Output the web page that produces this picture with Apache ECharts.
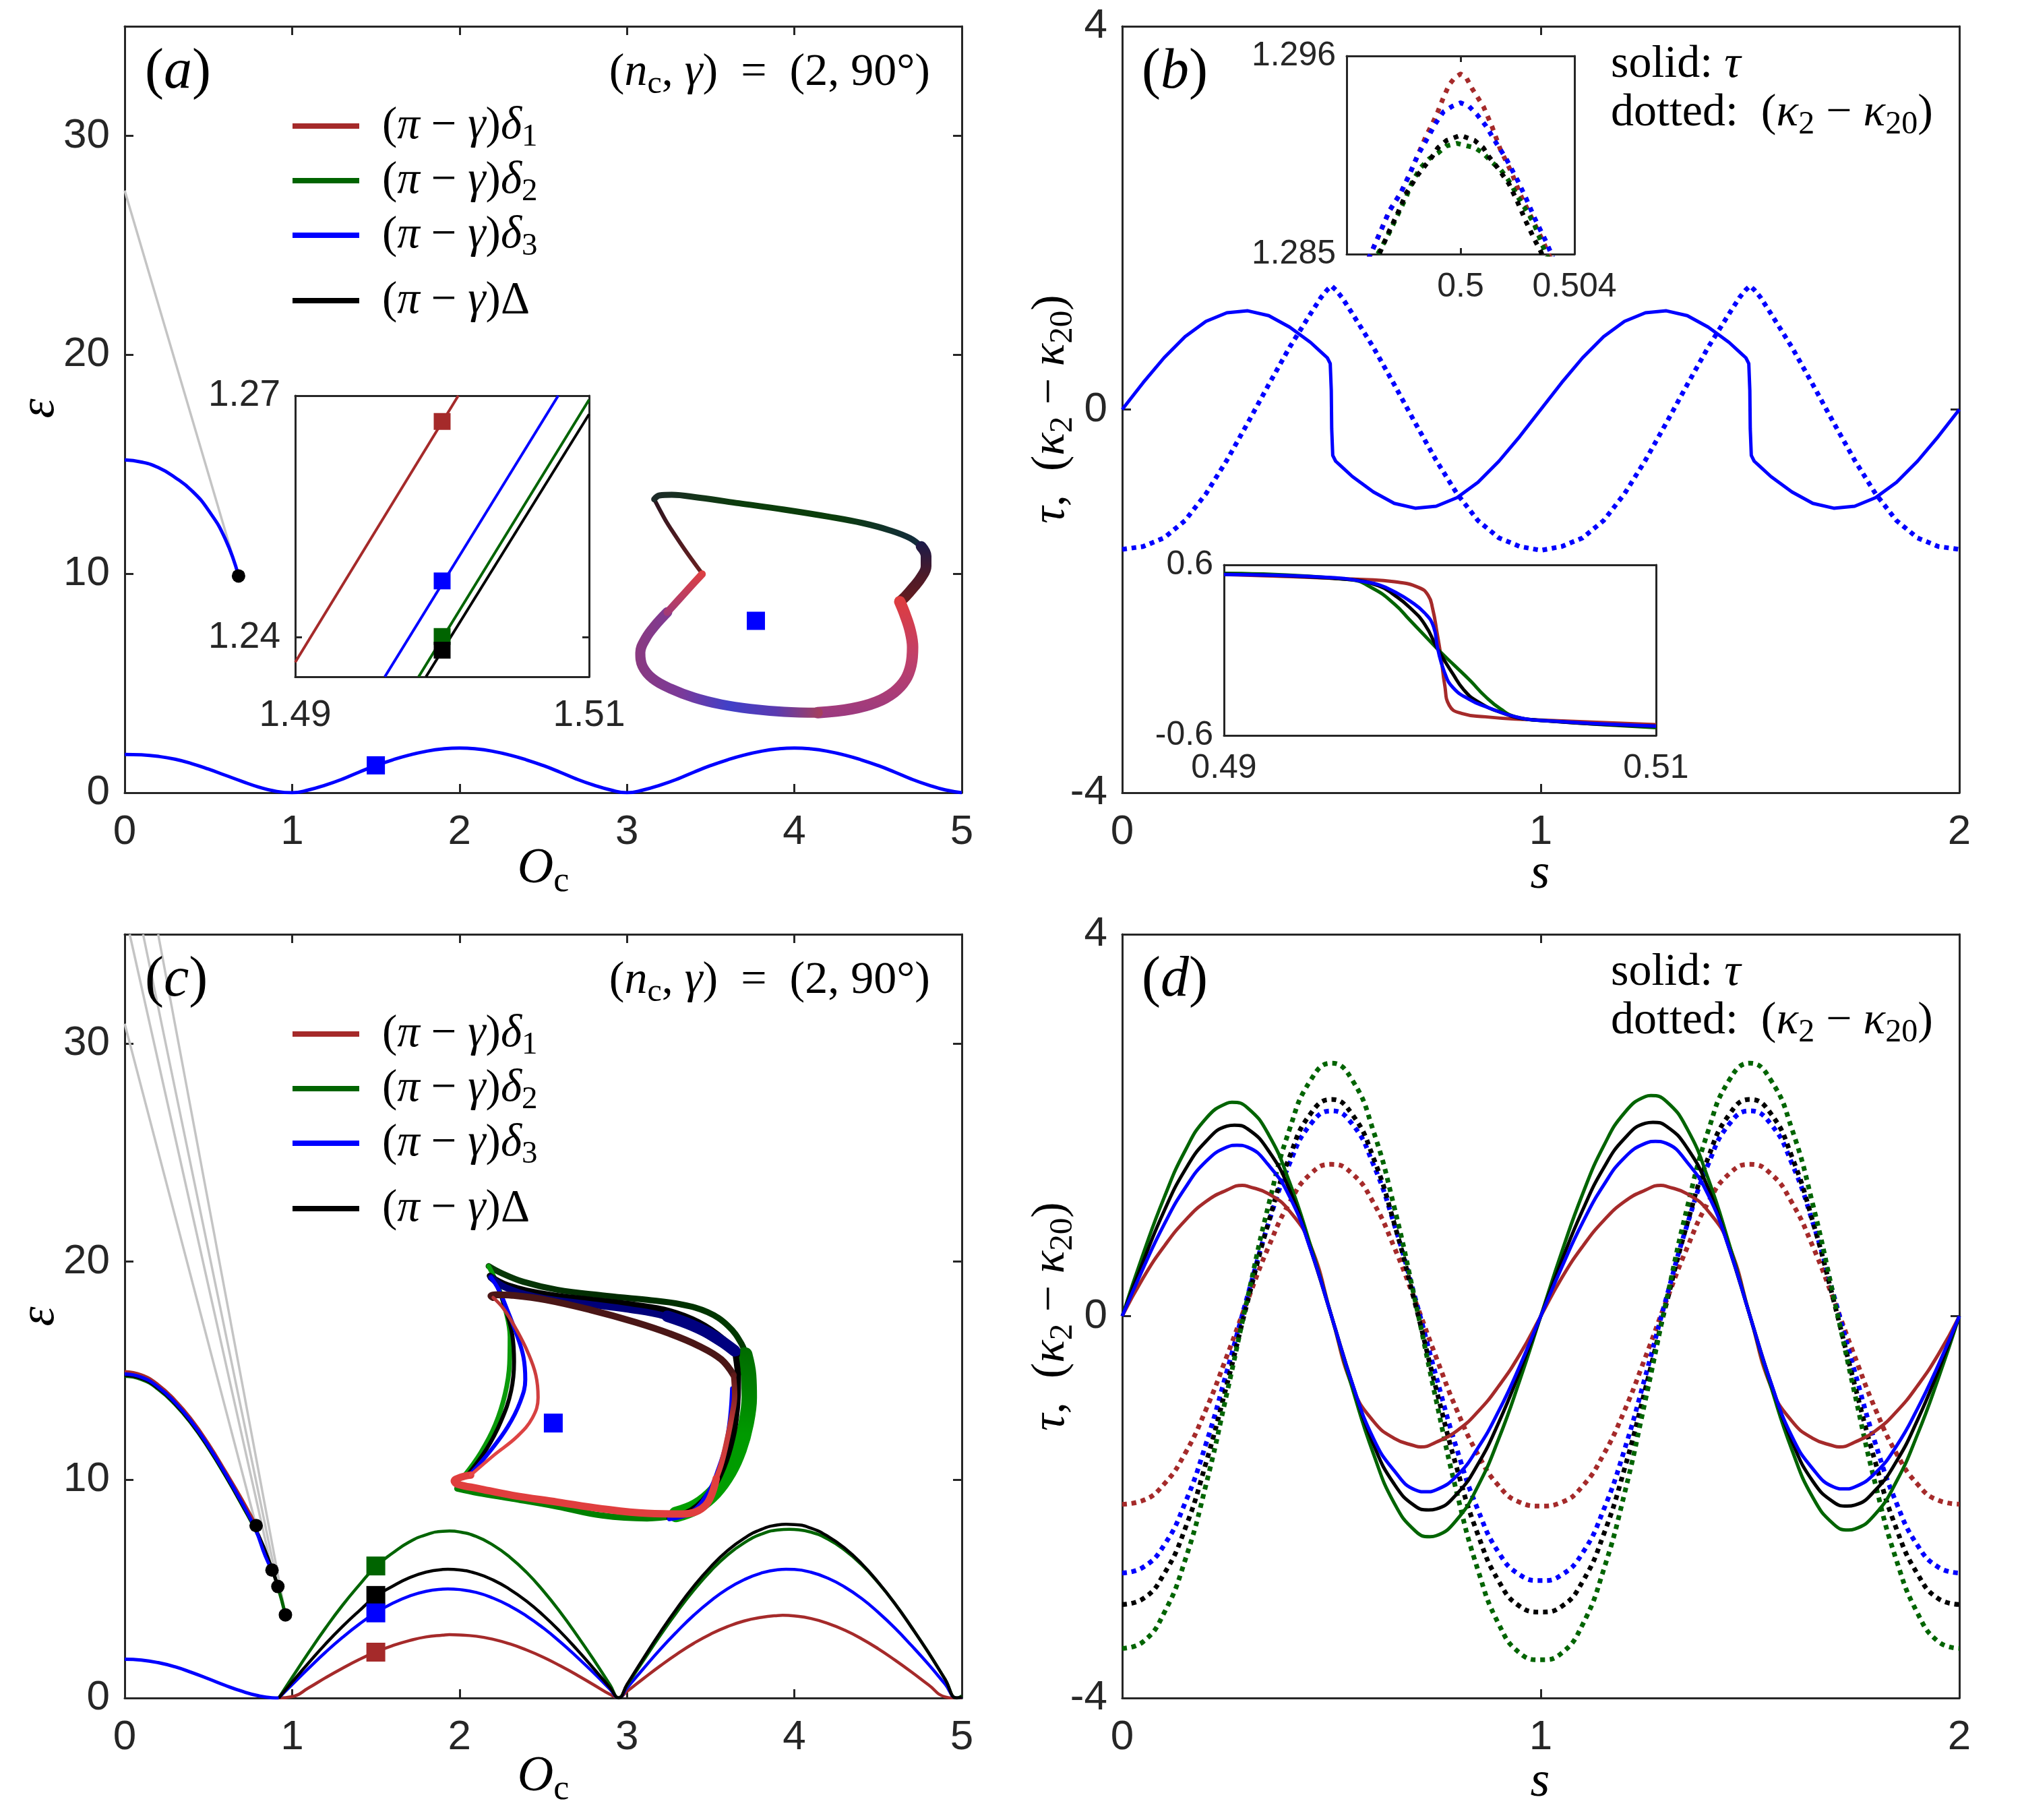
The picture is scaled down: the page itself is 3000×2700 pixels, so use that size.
<!DOCTYPE html>
<html>
<head>
<meta charset="utf-8">
<script src="https://cdn.jsdelivr.net/npm/echarts@6.0.0/dist/echarts.min.js"></script>
<style>
html,body{margin:0;padding:0;background:#fff;}
#chart{width:3000px;height:2700px;}
</style>
</head>
<body>
<div id="chart"></div>
<script>
// colours / fonts
var RED = '#a52a2a', GREEN = '#006400', BLUE = '#0000ff', BLACK = '#000000', GRAY = '#c4c4c4';
var AXC = '#262626';
var SANS = '"Liberation Sans", Arial, sans-serif';
var SERIF = '"Liberation Serif", "Times New Roman", serif';

// ---------- panel (a) ----------
var oGrid = [0,0.1,0.2,0.3,0.4,0.5,0.6,0.7,0.8,0.9,1,1.1,1.2,1.3,1.4,1.5,1.6,1.7,1.8,1.9,2,2.1,2.2,2.3,2.4,2.5,2.6,2.7,2.8,2.9,3,3.1,3.2,3.3,3.4,3.5,3.6,3.7,3.8,3.9,4,4.1,4.2,4.3,4.4,4.5,4.6,4.7,4.8,4.9,5];
var aLower = [1.75,1.73,1.66,1.53,1.33,1.08,0.80,0.52,0.26,0.07,0,
	0.13,0.35,0.62,0.94,1.24,1.50,1.72,1.89,2.0,2.04,
	2.0,1.89,1.72,1.50,1.24,0.94,0.62,0.35,0.13,0,
	0.13,0.35,0.62,0.94,1.24,1.50,1.72,1.89,2.0,2.04,
	2.0,1.89,1.72,1.50,1.24,0.94,0.62,0.35,0.13,0];
var aUpper = [[0,15.2],[0.1,15.1],[0.2,14.85],[0.3,14.4],[0.4,13.8],[0.5,12.9],[0.6,11.6],[0.68,9.9]];
var aGray = [[0,27.5],[0.68,9.9]];
var aDots = [[0.68,9.9]];
var aSquares = [[1.5,1.25],[3.77,7.85]];
// inset (a)
var aiRed = [[1.49,1.2369],[1.5011,1.27]];
var aiBlue = [[1.4961,1.2351],[1.5079,1.27]];
var aiGreen = [[1.4984,1.2351],[1.51,1.2695]];
var aiBlack = [[1.4989,1.2351],[1.51,1.2677]];
var aiSqRed = [[1.5,1.2668]], aiSqBlue = [[1.5,1.247]], aiSqGreen = [[1.5,1.2401]], aiSqBlack = [[1.5,1.2384]];
// loop (a), shape units
var loopA_arm = [[335,392],[300,345],[255,282],[212,218],[172,155],[142,100],[122,62]];
var loopA_top = [[122,62],[145,45],[200,42],[320,55],[500,80],[700,108],[900,140],[1050,168],[1170,200],[1260,235],[1310,272]];
var loopA_lobe = [[1310,272],[1332,315],[1332,360],[1310,410],[1275,455],[1240,495],[1215,518]];
var loopA_right = [[1215,518],[1240,580],[1262,650],[1272,720],[1265,800],[1240,865],[1190,920],[1110,965],[1000,995],[850,1012]];
var loopA_bottom = [[850,1012],[700,1008],[550,995],[420,975],[300,945],[195,905],[115,860],[70,805],[60,745],[85,680],[125,625],[180,565]];
var loopA_left = [[180,565],[230,510],[280,455],[335,395]];

// ---------- panel (b) ----------
var bSolid = [[0,0],[0.05,0.28],[0.1,0.54],[0.15,0.76],[0.2,0.92],[0.25,1.01],[0.3,1.03],[0.35,0.98],[0.4,0.86],[0.45,0.70],[0.48,0.58],[0.49,0.54],[0.497,0.48],[0.4995,0.2],[0.5,0],[0.5005,-0.2],[0.503,-0.48],[0.51,-0.54],[0.52,-0.58],[0.55,-0.70],[0.6,-0.86],[0.65,-0.98],[0.7,-1.03],[0.75,-1.01],[0.8,-0.92],[0.85,-0.76],[0.9,-0.54],[0.95,-0.28],[1.0,0],
	[1.05,0.28],[1.1,0.54],[1.15,0.76],[1.2,0.92],[1.25,1.01],[1.3,1.03],[1.35,0.98],[1.4,0.86],[1.45,0.70],[1.48,0.58],[1.49,0.54],[1.497,0.48],[1.4995,0.2],[1.5,0],[1.5005,-0.2],[1.503,-0.48],[1.51,-0.54],[1.52,-0.58],[1.55,-0.70],[1.6,-0.86],[1.65,-0.98],[1.7,-1.03],[1.75,-1.01],[1.8,-0.92],[1.85,-0.76],[1.9,-0.54],[1.95,-0.28],[2.0,0]];
var bDotted = [[0,-1.46],[0.05,-1.43],[0.1,-1.34],[0.15,-1.16],[0.2,-0.88],[0.25,-0.53],[0.3,-0.14],[0.35,0.26],[0.4,0.65],[0.45,1.0],[0.475,1.17],[0.49,1.25],[0.5,1.29],[0.51,1.25],[0.525,1.17],[0.55,1.0],[0.6,0.65],[0.65,0.26],[0.7,-0.14],[0.75,-0.53],[0.8,-0.88],[0.85,-1.16],[0.9,-1.34],[0.95,-1.43],[1.0,-1.47],
	[1.05,-1.43],[1.1,-1.34],[1.15,-1.16],[1.2,-0.88],[1.25,-0.53],[1.3,-0.14],[1.35,0.26],[1.4,0.65],[1.45,1.0],[1.475,1.17],[1.49,1.25],[1.5,1.29],[1.51,1.25],[1.525,1.17],[1.55,1.0],[1.6,0.65],[1.65,0.26],[1.7,-0.14],[1.75,-0.53],[1.8,-0.88],[1.85,-1.16],[1.9,-1.34],[1.95,-1.43],[2.0,-1.46]];
// top inset (b): dotted near the peak
var btRed = [[0.4966,1.2842],[0.4969,1.2852],[0.4972,1.2863],[0.4975,1.2874],[0.4979,1.2884],[0.4982,1.2894],[0.4985,1.2905],[0.4988,1.2916],[0.4990,1.2922],[0.4992,1.2929],[0.4994,1.2937],[0.4996,1.2944],[0.4998,1.2948],[0.5,1.2950],[0.5002,1.2948],[0.5004,1.2942],[0.5008,1.2932],[0.5011,1.2921],[0.5014,1.2908],[0.5018,1.2895],[0.5021,1.2883],[0.5025,1.2870],[0.5029,1.2857],[0.5032,1.2846],[0.5035,1.2836]];
var btBlue = [[0.4966,1.2842],[0.4969,1.2852],[0.4972,1.2863],[0.4975,1.2874],[0.4979,1.2884],[0.4982,1.2894],[0.4985,1.2905],[0.4989,1.2916],[0.4991,1.2922],[0.4994,1.2929],[0.4997,1.2932],[0.5,1.2934],[0.5003,1.2932],[0.5006,1.2927],[0.5009,1.2921],[0.5012,1.2913],[0.5016,1.2903],[0.5020,1.2891],[0.5023,1.2881],[0.5026,1.2870],[0.5030,1.2857],[0.5033,1.2846],[0.5036,1.2836]];
var btBlack = [[0.4970,1.2845],[0.4972,1.2852],[0.4975,1.2863],[0.4978,1.2873],[0.4981,1.2884],[0.4983,1.2889],[0.4985,1.2894],[0.4988,1.2900],[0.4990,1.2904],[0.4992,1.2909],[0.4995,1.2913],[0.5,1.2916],[0.5005,1.2913],[0.5008,1.2909],[0.5010,1.2904],[0.5013,1.2898],[0.5017,1.2889],[0.5020,1.2879],[0.5023,1.2868],[0.5026,1.2858],[0.5028,1.2852],[0.5030,1.2845]];
var btGreen = [[0.4969,1.2845],[0.4972,1.2853],[0.4975,1.2862],[0.4978,1.2872],[0.4981,1.2882],[0.4983,1.2890],[0.4986,1.2898],[0.4989,1.2903],[0.4992,1.2906],[0.4995,1.2910],[0.49987,1.29115],[0.5005,1.2909],[0.5008,1.2906],[0.5011,1.2901],[0.5014,1.2897],[0.5016,1.2893],[0.5018,1.2888],[0.5020,1.2882],[0.5022,1.2877],[0.5024,1.2872],[0.5026,1.2866],[0.5028,1.2858],[0.5030,1.2850],[0.5032,1.2845]];
// bottom inset (b): solid near the jump
var bbRed = [[0.49,0.532],[0.4965,0.497],[0.4979,0.481],[0.4990,0.442],[0.49945,0.386],[0.49966,0.291],[0.49987,0.117],[0.50004,-0.041],[0.50022,-0.247],[0.50043,-0.389],[0.5010,-0.445],[0.5021,-0.469],[0.5035,-0.485],[0.51,-0.524]];
var bbGreen = [[0.49,0.541],[0.4958,0.497],[0.4969,0.434],[0.4979,0.323],[0.4986,0.212],[0.4993,0.101],[0.5,-0.01],[0.5007,-0.112],[0.5014,-0.215],[0.5021,-0.326],[0.5028,-0.413],[0.5035,-0.469],[0.5049,-0.497],[0.51,-0.545]];
var bbBlack = [[0.49,0.535],[0.4958,0.497],[0.4972,0.45],[0.4979,0.386],[0.4986,0.30],[0.4993,0.18],[0.4999,0.006],[0.5006,-0.168],[0.5011,-0.279],[0.5017,-0.358],[0.5028,-0.437],[0.5042,-0.488],[0.51,-0.535]];
var bbBlue = [[0.49,0.532],[0.4951,0.51],[0.4965,0.481],[0.4972,0.458],[0.4979,0.41],[0.4986,0.347],[0.4993,0.26],[0.4997,0.165],[0.4999,0.006],[0.5002,-0.152],[0.5006,-0.263],[0.5014,-0.35],[0.5021,-0.397],[0.5035,-0.469],[0.5049,-0.497],[0.51,-0.535]];

// ---------- panel (c) ----------
var cPre = [[0,1.78],[0.1,1.74],[0.2,1.62],[0.3,1.43],[0.4,1.17],[0.5,0.88],[0.6,0.58],[0.7,0.31],[0.8,0.1],[0.88,0.01],[0.92,0]];
var cRedHump = [[0.92,0],[1.0,0.06],[1.1,0.47],[1.2,0.93],[1.3,1.36],[1.4,1.76],[1.5,2.11],[1.6,2.40],[1.7,2.63],[1.8,2.80],[1.9,2.88],[2.0,2.89],[2.1,2.83],[2.2,2.69],[2.3,2.48],[2.4,2.20],[2.5,1.87],[2.6,1.48],[2.7,1.06],[2.8,0.61],[2.9,0.16],[2.95,0.02],[3.0,0.3],[3.1,0.90],[3.2,1.48],[3.3,2.02],[3.4,2.51],[3.5,2.93],[3.6,3.27],[3.7,3.53],[3.8,3.69],[3.9,3.78],[4.0,3.76],[4.1,3.64],[4.2,3.42],[4.3,3.11],[4.4,2.72],[4.5,2.26],[4.6,1.74],[4.7,1.19],[4.8,0.61],[4.9,0.05],[4.95,0],[5.0,0.02]];
var cBlueHump = [[0.92,0],[1.0,0.61],[1.1,1.37],[1.2,2.10],[1.3,2.77],[1.4,3.38],[1.5,3.91],[1.6,4.34],[1.7,4.67],[1.8,4.89],[1.9,4.99],[2.0,4.97],[2.1,4.84],[2.2,4.58],[2.3,4.22],[2.4,3.76],[2.5,3.21],[2.6,2.58],[2.7,1.89],[2.8,1.16],[2.9,0.39],[2.95,0],[3.0,0.46],[3.1,1.36],[3.2,2.24],[3.3,3.05],[3.4,3.80],[3.5,4.45],[3.6,5.0],[3.7,5.42],[3.8,5.72],[3.9,5.88],[4.0,5.89],[4.1,5.76],[4.2,5.49],[4.3,5.09],[4.4,4.57],[4.5,3.93],[4.6,3.21],[4.7,2.40],[4.8,1.55],[4.9,0.64],[4.97,0],[5.0,0.05]];
var cBlackHump = [[0.92,0],[1.0,0.73],[1.1,1.62],[1.2,2.48],[1.3,3.27],[1.4,3.99],[1.5,4.66],[1.6,5.12],[1.7,5.51],[1.8,5.77],[1.9,5.89],[2.0,5.87],[2.1,5.71],[2.2,5.41],[2.3,4.98],[2.4,4.44],[2.5,3.79],[2.6,3.05],[2.7,2.23],[2.8,1.36],[2.9,0.46],[2.95,0],[3.0,0.62],[3.1,1.84],[3.2,3.02],[3.3,4.12],[3.4,5.13],[3.5,6.01],[3.6,6.75],[3.7,7.32],[3.8,7.72],[3.9,7.93],[4.0,7.95],[4.1,7.78],[4.2,7.41],[4.3,6.87],[4.4,6.17],[4.5,5.31],[4.6,4.33],[4.7,3.24],[4.8,2.09],[4.9,0.86],[4.97,0],[5.0,0.05]];
var cGreenHump = [[0.92,0],[1.0,0.94],[1.1,2.10],[1.2,3.21],[1.3,4.24],[1.4,5.17],[1.5,6.03],[1.6,6.64],[1.7,7.15],[1.8,7.48],[1.9,7.64],[2.0,7.61],[2.1,7.40],[2.2,7.01],[2.3,6.46],[2.4,5.76],[2.5,4.91],[2.6,3.95],[2.7,2.89],[2.8,1.77],[2.9,0.59],[2.95,0],[3.0,0.58],[3.1,1.74],[3.2,2.88],[3.3,3.96],[3.4,4.95],[3.5,5.82],[3.6,6.55],[3.7,7.11],[3.8,7.50],[3.9,7.70],[4.0,7.72],[4.1,7.60],[4.2,7.28],[4.3,6.78],[4.4,6.12],[4.5,5.29],[4.6,4.33],[4.7,3.24],[4.8,2.09],[4.9,0.86],[4.97,0],[5.0,0.1]];
// hump tops
var cRedPeaks = [[1.94,2.9],[3.93,3.79]];
var cBluePeaks = [[1.93,5.0],[3.95,5.9]];
var cBlackPeaks = [[1.93,5.9],[3.95,7.96]];
var cGreenPeaks = [[1.94,7.65],[3.97,7.73]];
var cUpRed = [[0,14.95],[0.1,14.8],[0.2,14.35],[0.3,13.65],[0.4,12.75],[0.5,11.65],[0.6,10.4],[0.7,9.1],[0.785,7.9]];
var cUpGreen = [[0,14.75],[0.1,14.6],[0.2,14.15],[0.3,13.45],[0.4,12.55],[0.5,11.45],[0.6,10.2],[0.7,8.85],[0.8,7.4],[0.88,5.9],[0.915,5.1],[0.96,3.81]];
var cUpBlack = [[0,14.8],[0.1,14.65],[0.2,14.2],[0.3,13.5],[0.4,12.6],[0.5,11.5],[0.6,10.25],[0.7,8.9],[0.8,7.45],[0.88,5.9],[0.915,5.11]];
var cUpBlue = [[0,14.85],[0.1,14.7],[0.2,14.25],[0.3,13.55],[0.4,12.65],[0.5,11.55],[0.6,10.3],[0.7,8.95],[0.78,7.75],[0.84,6.5],[0.88,5.86]];
var cGray1 = [[0,30.9],[0.785,7.9]];
var cGray2 = [[0.03,35],[0.88,5.86]];
var cGray3 = [[0.11,35],[0.915,5.11]];
var cGray4 = [[0.2,35],[0.96,3.81]];
var cDots = [[0.785,7.9],[0.88,5.86],[0.915,5.11],[0.96,3.81]];
var cSqGreen = [[1.5,6.05]], cSqBlack = [[1.5,4.7]], cSqBlue = [[1.5,3.9],[2.56,12.6]], cSqRed = [[1.5,2.1]];
// loop (c), shape units
var loopC_greenTop = [[195,55],[250,85],[350,125],[500,160],[700,185],[900,205],[1050,225],[1170,260],[1260,320],[1320,400],[1345,470]];
var loopC_greenRight = [[1335,450],[1352,540],[1355,640],[1340,760],[1310,870],[1265,970],[1200,1060],[1120,1125],[1030,1160]];
var loopC_greenBottom = [[1030,1165],[900,1178],[700,1165],[500,1125],[300,1090],[150,1065],[55,1045]];
var loopC_greenLeft = [[85,990],[160,885],[225,760],[268,625],[288,490],[290,370],[270,250],[235,140],[195,55]];
var loopC_blackTop = [[200,98],[280,140],[450,180],[650,205],[850,228],[1000,255],[1130,305],[1240,380],[1300,450]];
var loopC_blackRight = [[1295,455],[1305,560],[1300,690],[1280,820],[1240,950],[1180,1060],[1100,1140],[1000,1175]];
var loopC_blackLeft = [[100,985],[185,870],[250,745],[295,610],[308,480],[300,360],[270,245],[235,150],[200,98]];
var loopC_blueTop = [[205,105],[270,150],[420,195],[620,222],[820,248],[980,278],[1120,335],[1230,400],[1300,440]];
var loopC_blueBand = [[990,278],[1100,318],[1200,368],[1290,432]];
var loopC_blueRight = [[1280,600],[1272,720],[1252,850],[1218,960],[1175,1060],[1100,1150],[1000,1180]];
var loopC_blueLeft = [[110,985],[200,880],[280,770],[335,660],[358,560],[350,460],[320,360],[280,255],[240,160],[205,105]];
var loopC_redTop = [[215,195],[205,188],[225,182],[300,185],[450,205],[650,250],[850,305],[1000,355],[1130,410],[1230,470],[1285,540]];
var loopC_redRight = [[1285,540],[1290,630],[1276,730],[1256,830],[1232,930],[1208,1000]];
var loopC_redBottom = [[1208,1000],[1160,1120],[1060,1158],[900,1155],[700,1135],[500,1105],[300,1075],[150,1045],[55,1025],[42,1012],[70,995],[115,985]];
var loopC_redLeft = [[115,985],[220,895],[320,815],[390,730],[415,640],[405,540],[370,440],[320,340],[262,245],[215,195]];

// ---------- panel (d) ----------
var sGrid = [0,0.05,0.1,0.15,0.2,0.25,0.3,0.35,0.4,0.45,0.5,0.55,0.6,0.65,0.7,0.75,0.8,0.85,0.9,0.95,1,1.05,1.1,1.15,1.2,1.25,1.3,1.35,1.4,1.45,1.5,1.55,1.6,1.65,1.7,1.75,1.8,1.85,1.9,1.95,2];
var dTauGreen = [0,0.65,1.24,1.73,2.07,2.23,2.18,1.90,1.40,0.74,0,
	-0.76,-1.44,-1.96,-2.25,-2.30,-2.13,-1.78,-1.28,-0.67,0,
	0.67,1.28,1.78,2.13,2.30,2.25,1.96,1.44,0.76,0,
	-0.74,-1.40,-1.90,-2.18,-2.23,-2.07,-1.73,-1.24,-0.65,0];
var dTauBlack = [0,0.57,1.10,1.53,1.83,1.99,1.96,1.73,1.32,0.70,0,
	-0.71,-1.34,-1.76,-1.99,-2.02,-1.86,-1.55,-1.11,-0.58,0,
	0.58,1.11,1.55,1.86,2.02,1.99,1.76,1.34,0.71,0,
	-0.70,-1.31,-1.73,-1.95,-1.98,-1.82,-1.52,-1.09,-0.57,0];
var dTauBlue = [0,0.50,0.96,1.34,1.62,1.77,1.77,1.58,1.25,0.70,0,
	-0.71,-1.28,-1.62,-1.82,-1.82,-1.67,-1.38,-0.99,-0.52,0,
	0.51,0.98,1.37,1.66,1.81,1.81,1.61,1.27,0.71,0,
	-0.70,-1.26,-1.60,-1.79,-1.79,-1.64,-1.36,-0.97,-0.51,0];
var dTauRed = [0,0.40,0.73,1.00,1.20,1.32,1.36,1.28,1.10,0.74,0,
	-0.74,-1.10,-1.28,-1.36,-1.32,-1.20,-1.00,-0.73,-0.40,0,
	0.40,0.73,1.00,1.20,1.32,1.36,1.28,1.10,0.74,0,
	-0.74,-1.10,-1.28,-1.36,-1.32,-1.20,-1.00,-0.73,-0.40,0];
// extrema of the solid curves
var dTauGreenPeaks = [[0.262,2.24],[0.735,-2.31],[1.263,2.31],[1.735,-2.24]];
var dTauBlackPeaks = [[0.268,2.0],[0.732,-2.03],[1.268,2.03],[1.732,-1.99]];
var dTauBluePeaks = [[0.274,1.79],[0.726,-1.84],[1.274,1.83],[1.726,-1.81]];
var dTauRedPeaks = [[0.287,1.37],[0.713,-1.37],[1.287,1.37],[1.713,-1.37]];
var dKapGreen = [-3.48,-3.41,-3.11,-2.56,-1.77,-0.81,0.20,1.17,1.96,2.47,2.65,
	2.47,1.94,1.14,0.16,-0.88,-1.86,-2.66,-3.23,-3.53,-3.60,
	-3.53,-3.23,-2.66,-1.86,-0.88,0.16,1.14,1.94,2.47,2.65,
	2.47,1.96,1.17,0.20,-0.81,-1.77,-2.56,-3.11,-3.41,-3.48];
var dKapBlack = [-3.02,-2.96,-2.70,-2.23,-1.54,-0.72,0.16,0.99,1.67,2.12,2.27,
	2.11,1.66,0.97,0.13,-0.76,-1.60,-2.29,-2.78,-3.04,-3.10,
	-3.04,-2.78,-2.29,-1.60,-0.76,0.13,0.97,1.66,2.11,2.27,
	2.12,1.67,0.99,0.16,-0.72,-1.54,-2.23,-2.70,-2.96,-3.02];
var dKapBlue = [-2.69,-2.63,-2.40,-1.96,-1.34,-0.58,0.22,0.98,1.60,2.01,2.15,
	2.01,1.59,0.96,0.19,-0.63,-1.40,-2.03,-2.48,-2.71,-2.77,
	-2.71,-2.48,-2.03,-1.40,-0.63,0.19,0.96,1.59,2.01,2.15,
	2.01,1.60,0.98,0.22,-0.58,-1.34,-1.96,-2.40,-2.63,-2.69];
var dKapRed = [-1.97,-1.93,-1.76,-1.44,-0.98,-0.42,0.17,0.73,1.19,1.49,1.59,
	1.49,1.19,0.72,0.16,-0.43,-0.99,-1.45,-1.78,-1.95,-1.99,
	-1.95,-1.78,-1.45,-0.99,-0.43,0.16,0.72,1.19,1.49,1.59,
	1.49,1.19,0.73,0.17,-0.42,-0.98,-1.44,-1.76,-1.93,-1.97];

// ---------- builders ----------
var grids = [], xAxes = [], yAxes = [], series = [], graphics = [];

function zip(xs, ys){
	return xs.map(function(x, i){ return [x, ys[i]]; });
}
function merged(pts, extra){
	var all = pts.concat(extra);
	all.sort(function(p, q){ return p[0] - q[0]; });
	return all;
}
function axisDef(gi, o, pos, withLabels){
	return {
		gridIndex: gi, type: 'value', position: pos, min: o.min, max: o.max, interval: o.interval,
		axisLine: {show: true, onZero: false, lineStyle: {color: AXC, width: 3}},
		axisTick: {show: o.ticks.length > 0, inside: true, length: o.tl || 13, customValues: o.ticks, lineStyle: {color: AXC, width: 3}},
		axisLabel: {show: withLabels, customValues: o.labels, formatter: o.fmt, fontSize: o.fs, fontFamily: SANS, color: AXC, margin: o.margin},
		splitLine: {show: false}
	};
}
function addBox(rect, xo, yo){
	var gi = grids.length;
	grids.push({left: rect[0], top: rect[1], width: rect[2], height: rect[3], show: true, backgroundColor: '#ffffff', borderWidth: 0});
	var ax = {x: xAxes.length, y: yAxes.length};
	xAxes.push(axisDef(gi, xo, 'bottom', true));
	xAxes.push(axisDef(gi, xo, 'top', false));
	yAxes.push(axisDef(gi, yo, 'left', true));
	yAxes.push(axisDef(gi, yo, 'right', false));
	return ax;
}
function addFree(rect, xmax, ymax){
	var gi = grids.length;
	grids.push({left: rect[0], top: rect[1], width: rect[2], height: rect[3], show: false});
	var ax = {x: xAxes.length, y: yAxes.length};
	xAxes.push({gridIndex: gi, type: 'value', min: 0, max: xmax, show: false});
	yAxes.push({gridIndex: gi, type: 'value', min: 0, max: ymax, inverse: true, show: false});
	return ax;
}
function lineS(ax, data, color, width, dash, smooth, z){
	return {
		type: 'line', xAxisIndex: ax.x, yAxisIndex: ax.y, data: data, symbol: 'none', showSymbol: false,
		smooth: smooth === undefined ? 0.5 : smooth, clip: true, silent: true, animation: false,
		z: z || 2, lineStyle: {color: color, width: width, type: dash || 'solid', cap: 'butt', join: 'round'}
	};
}
function loopS(ax, data, color, width){
	return {
		type: 'line', xAxisIndex: ax.x, yAxisIndex: ax.y, data: data, symbol: 'none', showSymbol: false,
		smooth: 0.4, clip: false, silent: true, animation: false, z: 3,
		lineStyle: {color: color, width: width, cap: 'round', join: 'round'}
	};
}
function dotS(ax, data, color, symbol, size){
	return {
		type: 'scatter', xAxisIndex: ax.x, yAxisIndex: ax.y, data: data, symbol: symbol, symbolSize: size,
		itemStyle: {color: color, opacity: 1}, silent: true, animation: false, z: 10
	};
}
function grad(vertical, stops){
	return {type: 'linear', x: 0, y: 0, x2: vertical ? 0 : 1, y2: vertical ? 1 : 0,
		colorStops: stops.map(function(c, i){ return {offset: i / (stops.length - 1), color: c}; })};
}
function rich(size){
	var lh = Math.round(size * 1.2), ss = Math.round(size * 0.7);
	return {
		n: {fontFamily: SERIF, fontSize: size, lineHeight: lh, fill: '#000', color: '#000'},
		i: {fontFamily: SERIF, fontSize: size, fontStyle: 'italic', lineHeight: lh, fill: '#000', color: '#000'},
		s: {fontFamily: SERIF, fontSize: ss, lineHeight: ss, verticalAlign: 'bottom', fill: '#000', color: '#000'}
	};
}
function tex(x, y, str, size, align, rot){
	return {
		type: 'text', x: x, y: y, rotation: rot || 0, silent: true, z: 50,
		style: {text: str, rich: rich(size), font: size + 'px ' + SERIF, fill: '#000',
			align: align, verticalAlign: 'middle', textAlign: align, textVerticalAlign: 'middle'}
	};
}
function legendBlock(top){
	var ys = [0, 81, 162, 259];
	var cols = [RED, GREEN, BLUE, BLACK];
	var labels = ['{n|(}{i|π}{n| − }{i|γ}{n|)}{i|δ}{s|1}', '{n|(}{i|π}{n| − }{i|γ}{n|)}{i|δ}{s|2}',
		'{n|(}{i|π}{n| − }{i|γ}{n|)}{i|δ}{s|3}', '{n|(}{i|π}{n| − }{i|γ}{n|)Δ}'];
	for (var i = 0; i < 4; i++){
		graphics.push({type: 'line', silent: true, z: 50, shape: {x1: 434, y1: top + ys[i], x2: 533, y2: top + ys[i]},
			style: {stroke: cols[i], lineWidth: 8}});
		graphics.push(tex(567, top + ys[i], labels[i], 67, 'left'));
	}
}
function fmt2(v){ return v.toFixed(2); }
function fmt3(v){ return Math.abs(v - 0.5) < 1e-9 ? '0.5' : v.toFixed(3); }
function fmt1(v){ return v.toFixed(1); }

// ---------- axes ----------
var oAxis = {min: 0, max: 5, interval: 1, ticks: [0,1,2,3,4,5], labels: [0,1,2,3,4,5], fs: 62, margin: 28};
var eAxis = {min: 0, max: 35, interval: 10, ticks: [0,10,20,30], labels: [0,10,20,30], fs: 62, margin: 22};
var sAxis = {min: 0, max: 2, interval: 1, ticks: [0,1,2], labels: [0,1,2], fs: 62, margin: 28};
var tAxis = {min: -4, max: 4, interval: 4, ticks: [-4,0,4], labels: [-4,0,4], fs: 62, margin: 22};

var A = addBox([185, 39, 1242, 1137], oAxis, eAxis);
var B = addBox([1665, 39, 1242, 1137], sAxis, tAxis);
var C = addBox([185, 1386, 1242, 1133], oAxis, eAxis);
var D = addBox([1665, 1386, 1242, 1133], sAxis, tAxis);
var AI = addBox([438, 587, 436, 417],
	{min: 1.49, max: 1.51, ticks: [1.49,1.51], labels: [1.49,1.51], fmt: fmt2, fs: 55, margin: 30, tl: 10},
	{min: 1.2351, max: 1.27, ticks: [1.24,1.27], labels: [1.24,1.27], fmt: fmt2, fs: 55, margin: 22, tl: 10});
var BT = addBox([1998, 83, 338, 294],
	{min: 0.496, max: 0.504, ticks: [0.5], labels: [0.5,0.504], fmt: fmt3, fs: 50, margin: 24, tl: 9},
	{min: 1.285, max: 1.296, ticks: [], labels: [1.285,1.296], fmt: function(v){ return v.toFixed(3); }, fs: 50, margin: 16, tl: 9});
var BB = addBox([1816, 838, 641, 253],
	{min: 0.49, max: 0.51, ticks: [], labels: [0.49,0.51], fmt: fmt2, fs: 50, margin: 24},
	{min: -0.6, max: 0.6, ticks: [], labels: [-0.6,0.6], fmt: fmt1, fs: 50, margin: 16});
var LA = addFree([930, 720, 500, 380], 1500, 1140);
var LC = addFree([660, 1860, 480, 400], 1440, 1200);

// ---------- series: (a) ----------
series.push(lineS(A, aGray, GRAY, 3.5, 'solid', false));
series.push(lineS(A, aUpper, BLUE, 5));
series.push(lineS(A, zip(oGrid, aLower), BLUE, 5));
series.push(dotS(A, aDots, BLACK, 'circle', 20));
series.push(dotS(A, aSquares, BLUE, 'rect', 27));
series.push(lineS(AI, aiRed, RED, 4, 'solid', false));
series.push(lineS(AI, aiBlue, BLUE, 4, 'solid', false));
series.push(lineS(AI, aiGreen, GREEN, 4, 'solid', false));
series.push(lineS(AI, aiBlack, BLACK, 4, 'solid', false));
series.push(dotS(AI, aiSqRed, RED, 'rect', 25));
series.push(dotS(AI, aiSqBlue, BLUE, 'rect', 25));
series.push(dotS(AI, aiSqGreen, GREEN, 'rect', 25));
series.push(dotS(AI, aiSqBlack, BLACK, 'rect', 25));
series.push(loopS(LA, loopA_arm, grad(true, ['#2a1420', '#6a2020']), 6));
series.push(loopS(LA, loopA_top, grad(false, ['#1e2a2a', '#0b3d0b', '#0b3d0b', '#142a40']), 9));
series.push(loopS(LA, loopA_lobe, grad(true, ['#1a1a4a', '#4a1a2a', '#6b1c1c']), 16));
series.push(loopS(LA, loopA_right, grad(true, ['#e03c3c', '#c0406a', '#9a3a80']), 17));
series.push(loopS(LA, loopA_bottom, grad(false, ['#8a3a80', '#7a3a9a', '#4040c8', '#5a3ab0', '#a8405a']), 15));
series.push(loopS(LA, loopA_left, grad(true, ['#e04040', '#a03a78']), 11));

// ---------- series: (b) ----------
series.push(lineS(B, bDotted, BLUE, 7, [7, 7], false));
series.push(lineS(B, bSolid, BLUE, 5, 'solid', false));
series.push(lineS(BT, btRed, RED, 7, [7, 9], false));
series.push(lineS(BT, btGreen, GREEN, 7, [7, 9], false));
series.push(lineS(BT, btBlack, BLACK, 7, [7, 9], false));
series.push(lineS(BT, btBlue, BLUE, 7, [7, 9], false));
series.push(lineS(BB, bbRed, RED, 5));
series.push(lineS(BB, bbGreen, GREEN, 5));
series.push(lineS(BB, bbBlack, BLACK, 5));
series.push(lineS(BB, bbBlue, BLUE, 5));

// ---------- series: (c) ----------
series.push(lineS(C, cGray1, GRAY, 3.5, 'solid', false));
series.push(lineS(C, cGray2, GRAY, 3.5, 'solid', false));
series.push(lineS(C, cGray3, GRAY, 3.5, 'solid', false));
series.push(lineS(C, cGray4, GRAY, 3.5, 'solid', false));
series.push(lineS(C, cUpGreen, GREEN, 5));
series.push(lineS(C, cUpBlack, BLACK, 5));
series.push(lineS(C, cUpRed, RED, 5));
series.push(lineS(C, cUpBlue, BLUE, 5));
series.push(dotS(C, cDots, BLACK, 'circle', 20));
series.push(lineS(C, merged(cRedHump, cRedPeaks), RED, 4.5));
series.push(lineS(C, merged(cBlueHump, cBluePeaks), BLUE, 4.5));
series.push(lineS(C, merged(cGreenHump, cGreenPeaks), GREEN, 4.5));
series.push(lineS(C, merged(cBlackHump, cBlackPeaks), BLACK, 4.5));
series.push(lineS(C, cPre, BLUE, 5));
series.push(dotS(C, cSqGreen, GREEN, 'rect', 28));
series.push(dotS(C, cSqBlack, BLACK, 'rect', 28));
series.push(dotS(C, cSqBlue, BLUE, 'rect', 28));
series.push(dotS(C, cSqRed, RED, 'rect', 28));
series.push(loopS(LC, loopC_greenBottom, '#008000', 9));
series.push(loopS(LC, loopC_greenTop, grad(false, ['#0a3a0a', '#002a00', '#003a00']), 9));
series.push(loopS(LC, loopC_greenRight, grad(true, ['#006a00', '#009a00', '#00a000']), 23));
series.push(loopS(LC, loopC_greenLeft, '#0a9a0a', 7));
series.push(loopS(LC, loopC_blackTop, BLACK, 9));
series.push(loopS(LC, loopC_blackRight, BLACK, 9));
series.push(loopS(LC, loopC_blackLeft, BLACK, 6));
series.push(loopS(LC, loopC_blueTop, '#00007a', 10));
series.push(loopS(LC, loopC_blueBand, '#00007f', 17));
series.push(loopS(LC, loopC_blueRight, BLUE, 7));
series.push(loopS(LC, loopC_blueLeft, BLUE, 6));
series.push(loopS(LC, loopC_redTop, '#4a1616', 10));
series.push(loopS(LC, loopC_redRight, grad(true, ['#5a1818', '#c03838', '#e04040']), 8));
series.push(loopS(LC, loopC_redBottom, '#e03e3e', 11));
series.push(loopS(LC, loopC_redLeft, grad(true, ['#b83434', '#e84848']), 5));

// ---------- series: (d) ----------
series.push(lineS(D, zip(sGrid, dKapRed), RED, 7, [7, 7]));
series.push(lineS(D, zip(sGrid, dKapBlue), BLUE, 7, [7, 7]));
series.push(lineS(D, zip(sGrid, dKapBlack), BLACK, 7, [7, 7]));
series.push(lineS(D, zip(sGrid, dKapGreen), GREEN, 7, [7, 7]));
series.push(lineS(D, merged(zip(sGrid, dTauRed), dTauRedPeaks), RED, 5));
series.push(lineS(D, merged(zip(sGrid, dTauGreen), dTauGreenPeaks), GREEN, 5));
series.push(lineS(D, merged(zip(sGrid, dTauBlack), dTauBlackPeaks), BLACK, 5));
series.push(lineS(D, merged(zip(sGrid, dTauBlue), dTauBluePeaks), BLUE, 5));

// ---------- texts ----------
graphics.push(tex(215, 108, '{n|(}{i|a}{n|)}', 84, 'left'));
graphics.push(tex(1694, 108, '{n|(}{i|b}{n|)}', 84, 'left'));
graphics.push(tex(215, 1455, '{n|(}{i|c}{n|)}', 84, 'left'));
graphics.push(tex(1694, 1455, '{n|(}{i|d}{n|)}', 84, 'left'));
graphics.push(tex(1380, 108, '{n|(}{i|n}{s|c}{n|, }{i|γ}{n|)  =  (2, 90°)}', 68, 'right'));
graphics.push(tex(1380, 1455, '{n|(}{i|n}{s|c}{n|, }{i|γ}{n|)  =  (2, 90°)}', 68, 'right'));
legendBlock(187);
legendBlock(1534);
graphics.push(tex(2390, 96, '{n|solid: }{i|τ}', 68, 'left'));
graphics.push(tex(2390, 168, '{n|dotted:  (}{i|κ}{s|2}{n| − }{i|κ}{s|20}{n|)}', 68, 'left'));
graphics.push(tex(2390, 1443, '{n|solid: }{i|τ}', 68, 'left'));
graphics.push(tex(2390, 1515, '{n|dotted:  (}{i|κ}{s|2}{n| − }{i|κ}{s|20}{n|)}', 68, 'left'));
graphics.push(tex(60, 606, '{i|ε}', 74, 'center', Math.PI / 2));
graphics.push(tex(60, 1953, '{i|ε}', 74, 'center', Math.PI / 2));
graphics.push(tex(1560, 607, '{i|τ}{n|,  (}{i|κ}{s|2}{n| − }{i|κ}{s|20}{n|)}', 70, 'center', Math.PI / 2));
graphics.push(tex(1560, 1953, '{i|τ}{n|,  (}{i|κ}{s|2}{n| − }{i|κ}{s|20}{n|)}', 70, 'center', Math.PI / 2));
graphics.push(tex(806, 1290, '{i|O}{s|c}', 74, 'center'));
graphics.push(tex(806, 2637, '{i|O}{s|c}', 74, 'center'));
graphics.push(tex(2285, 1298, '{i|s}', 74, 'center'));
graphics.push(tex(2285, 2645, '{i|s}', 74, 'center'));

var myChart = echarts.init(document.getElementById('chart'), null, {renderer: 'canvas'});
myChart.setOption({
	animation: false,
	backgroundColor: '#ffffff',
	grid: grids,
	xAxis: xAxes,
	yAxis: yAxes,
	series: series,
	graphic: {elements: graphics}
});
</script>
</body>
</html>
